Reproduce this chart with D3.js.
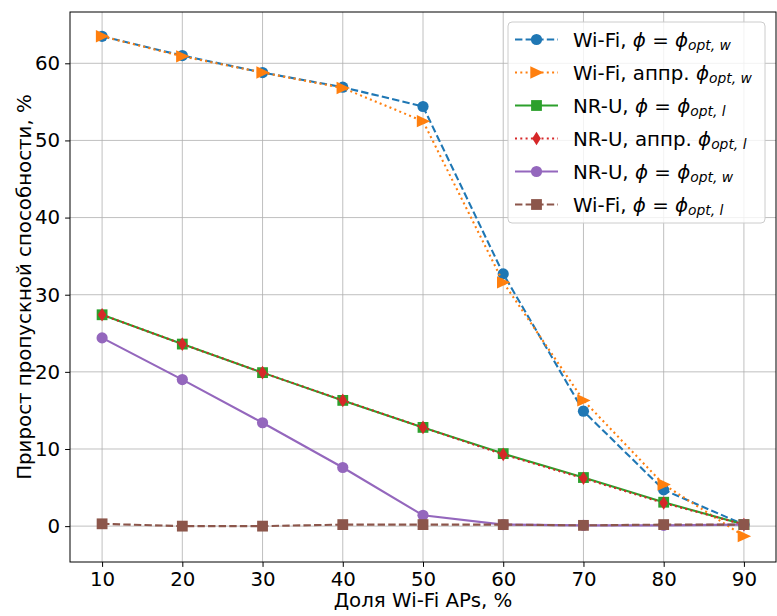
<!DOCTYPE html>
<html>
<head>
<meta charset="utf-8">
<script src="https://cdn.jsdelivr.net/npm/d3@7"></script>
<style>
  body { margin: 0; background: #fff; }
  svg { display: block; font-family: "DejaVu Sans", sans-serif; }
</style>
</head>
<body>
<svg id="chart" width="777" height="616"></svg>
<script>
// Share of Wi-Fi access points, %
const shares = [10, 20, 30, 40, 50, 60, 70, 80, 90];

// Throughput gain, % for each configuration
const wifiOptW      = [63.5, 61.0, 58.8, 56.9, 54.4, 32.7, 14.9, 4.7, 0.2];
const wifiApproxW   = [63.5, 60.9, 58.8, 56.8, 52.5, 31.6, 16.3, 5.4, -1.3];
const nruOptL       = [27.4, 23.6, 19.9, 16.3, 12.8, 9.4, 6.3, 3.1, 0.2];
const nruApproxL    = [27.4, 23.6, 19.9, 16.3, 12.8, 9.3, 6.2, 3.0, 0.2];
const nruOptW       = [24.4, 19.0, 13.4, 7.6, 1.4, 0.2, 0.1, 0.1, 0.2];
const wifiOptL      = [0.3, 0.0, 0.0, 0.2, 0.2, 0.2, 0.1, 0.2, 0.2];

const xTicks = [10, 20, 30, 40, 50, 60, 70, 80, 90];
const yTicks = [0, 10, 20, 30, 40, 50, 60];

const xLabel = "Доля Wi-Fi APs, %";
const yLabel = "Прирост пропускной способности, %";

const series = [
  { prefix: "Wi-Fi, ",       eq: true,  sub: "opt, w", values: wifiOptW,    color: "#1f77b4", dash: "7.4,3.2", marker: "circle" },
  { prefix: "Wi-Fi, аппр. ", eq: false, sub: "opt, w", values: wifiApproxW, color: "#ff7f0e", dash: "2,3.3",   marker: "triangle" },
  { prefix: "NR-U, ",        eq: true,  sub: "opt, l", values: nruOptL,     color: "#2ca02c", dash: null,      marker: "square" },
  { prefix: "NR-U, аппр. ",  eq: false, sub: "opt, l", values: nruApproxL,  color: "#d62728", dash: "2,3.3",   marker: "diamond" },
  { prefix: "NR-U, ",        eq: true,  sub: "opt, w", values: nruOptW,     color: "#9467bd", dash: null,      marker: "circle" },
  { prefix: "Wi-Fi, ",       eq: true,  sub: "opt, l", values: wifiOptL,    color: "#8c564b", dash: "7.4,3.2", marker: "square" }
];

const FONT = 19.8;
const svg = d3.select("#chart");
const plot = { left: 70, right: 776, top: 12, bottom: 562 };

const x = d3.scaleLinear().domain([6, 94]).range([plot.left, plot.right]);
const y = d3.scaleLinear().domain([-4.65, 66.65]).range([plot.bottom, plot.top]);

// grid
const grid = svg.append("g");
grid.selectAll("line.vx").data(xTicks).join("line")
  .attr("x1", d => x(d)).attr("x2", d => x(d))
  .attr("y1", plot.top).attr("y2", plot.bottom)
  .attr("stroke", "#b0b0b0").attr("stroke-width", 0.8);
grid.selectAll("line.hy").data(yTicks).join("line")
  .attr("y1", d => y(d)).attr("y2", d => y(d))
  .attr("x1", plot.left).attr("x2", plot.right)
  .attr("stroke", "#b0b0b0").attr("stroke-width", 0.8);

// axes
const xAxis = svg.append("g").attr("transform", `translate(0,${plot.bottom})`)
  .call(d3.axisBottom(x).tickValues(xTicks).tickSize(4.9).tickPadding(4.9));
const yAxis = svg.append("g").attr("transform", `translate(${plot.left},0)`)
  .call(d3.axisLeft(y).tickValues(yTicks).tickSize(4.9).tickPadding(4.9));
[xAxis, yAxis].forEach(a => {
  a.attr("font-family", "DejaVu Sans, sans-serif").attr("font-size", FONT);
  a.select(".domain").remove();
  a.selectAll("text").attr("fill", "#000");
  a.selectAll("line").attr("stroke", "#000").attr("stroke-width", 1);
});
xAxis.selectAll("text").attr("dy", "0.73em");

// frame
svg.append("rect")
  .attr("x", plot.left).attr("y", plot.top)
  .attr("width", plot.right - plot.left).attr("height", plot.bottom - plot.top)
  .attr("fill", "none").attr("stroke", "#000").attr("stroke-width", 1);

// marker drawing
function drawMarker(g, type, cx, cy, color) {
  if (type === "circle") {
    g.append("circle").attr("cx", cx).attr("cy", cy).attr("r", 5.6).attr("fill", color);
  } else if (type === "square") {
    g.append("rect").attr("x", cx - 5.4).attr("y", cy - 5.4).attr("width", 10.8).attr("height", 10.8).attr("fill", color);
  } else if (type === "triangle") {
    const s = 6.2;
    g.append("path").attr("d", `M${cx + s + 1},${cy} L${cx - s},${cy - s} L${cx - s},${cy + s} Z`).attr("fill", color);
  } else if (type === "diamond") {
    const h = 6.8, w = 4.3;
    g.append("path").attr("d", `M${cx},${cy - h} L${cx + w},${cy} L${cx},${cy + h} L${cx - w},${cy} Z`).attr("fill", color);
  }
}

const line = d3.line().x((d, i) => x(shares[i])).y(d => y(d));

const marks = svg.append("g");
series.forEach(s => {
  const g = marks.append("g");
  g.append("path").datum(s.values)
    .attr("d", line).attr("fill", "none")
    .attr("stroke", s.color).attr("stroke-width", 2.1)
    .attr("stroke-dasharray", s.dash);
  s.values.forEach((v, i) => drawMarker(g, s.marker, x(shares[i]), y(v), s.color));
});

// axis labels
svg.append("text")
  .attr("x", (plot.left + plot.right) / 2).attr("y", 607)
  .attr("text-anchor", "middle").attr("font-size", FONT).text(xLabel);
svg.append("text")
  .attr("transform", `translate(31,${(plot.top + plot.bottom) / 2}) rotate(-90)`)
  .attr("text-anchor", "middle").attr("font-size", FONT).text(yLabel);

// legend
const legend = svg.append("g");
legend.append("rect")
  .attr("x", 508).attr("y", 22).attr("width", 257).attr("height", 201)
  .attr("rx", 4).attr("fill", "#fff").attr("fill-opacity", 0.8)
  .attr("stroke", "#cccccc").attr("stroke-width", 1);

series.forEach((s, i) => {
  const cy = 39.5 + i * 33;
  const g = legend.append("g");
  g.append("line").attr("x1", 515).attr("x2", 558).attr("y1", cy).attr("y2", cy)
    .attr("stroke", s.color).attr("stroke-width", 2.1).attr("stroke-dasharray", s.dash);
  drawMarker(g, s.marker, 536.5, cy, s.color);
  const t = g.append("text").attr("x", 573).attr("y", cy + 7).attr("font-size", FONT);
  t.append("tspan").text(s.prefix);
  if (s.eq) {
    t.append("tspan").attr("font-style", "italic").text("ϕ");
    t.append("tspan").text(" = ");
  }
  t.append("tspan").attr("font-style", "italic").text("ϕ");
  t.append("tspan").attr("font-style", "italic").attr("font-size", FONT * 0.7).attr("dy", 3).text(s.sub);
});
</script>
</body>
</html>
